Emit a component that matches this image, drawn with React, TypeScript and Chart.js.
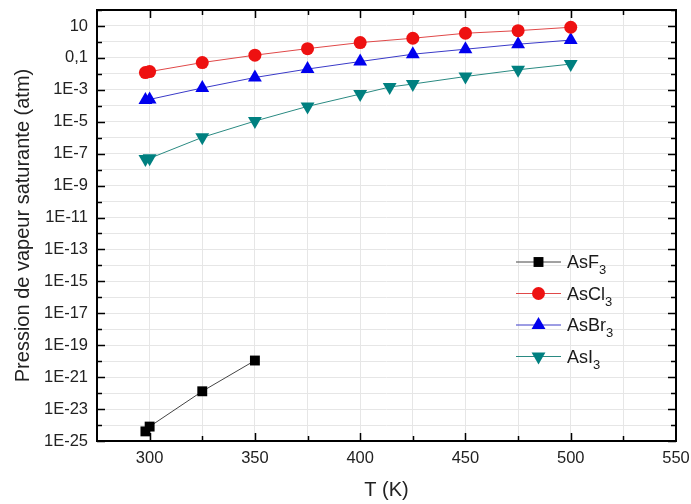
import React, { useEffect, useRef } from 'react';
import { Chart, registerables } from 'chart.js';

Chart.register(...registerables);

// ---- Data ----
const asF3T = [298, 300, 325, 350];
const asF3P = [4e-25, 8e-25, 1.3e-22, 1.1e-20];

const asCl3T = [298, 300, 325, 350, 375, 400, 425, 450, 475, 500];
const asCl3P = [0.012, 0.0138, 0.051, 0.148, 0.38, 0.91, 1.7, 3.5, 5.1, 8.3];

const asBr3T = [298, 300, 325, 350, 375, 400, 425, 450, 475, 500];
const asBr3P = [2.3e-4, 2.5e-4, 1.3e-3, 5.9e-3, 0.02, 0.059, 0.17, 0.35, 0.72, 1.3];

const asI3T = [298, 300, 325, 350, 375, 400, 414, 425, 450, 475, 500];
const asI3P = [4.7e-8, 5.1e-8, 1.05e-6, 1.1e-5, 9.1e-5, 5.4e-4, 1.5e-3, 2.3e-3, 6.8e-3, 0.018, 0.041];

const xTickValues = [275, 300, 325, 350, 375, 400, 425, 450, 475, 500, 525, 550];
const xLabeledStep = 50;
const yExponents = Array.from({ length: 28 }, (_, i) => -25 + i); // -25 .. 2

const seriesNames = ['AsF', 'AsCl', 'AsBr', 'AsI'];
const seriesSub = ['3', '3', '3', '3'];

const FONT = '"Liberation Sans", Arial, sans-serif';

type Style = { line: string; fill: string; shape: string; r: number; rot: number };
const styles: Style[] = [
  { line: '#444444', fill: '#000000', shape: 'rect', r: 7, rot: 0 },
  { line: '#e04848', fill: '#ee1111', shape: 'circle', r: 6.5, rot: 0 },
  { line: '#3a3ac8', fill: '#0000ee', shape: 'triangle', r: 8, rot: 0 },
  { line: '#2a8a82', fill: '#008080', shape: 'triangle', r: 8, rot: 180 },
];

function yLabel(v: number): string {
  const e = Math.round(Math.log10(v));
  if (e % 2 === 0) return '';
  if (e === 1) return '10';
  if (e === -1) return '0,1';
  return '1E' + e;
}

function drawMarker(ctx: CanvasRenderingContext2D, st: Style, x: number, y: number) {
  const r = st.r;
  ctx.beginPath();
  if (st.shape === 'circle') {
    ctx.arc(x, y, r, 0, Math.PI * 2);
  } else if (st.shape === 'rect') {
    const s = Math.SQRT1_2 * r;
    ctx.rect(x - s, y - s, 2 * s, 2 * s);
  } else {
    let rad = (st.rot * Math.PI) / 180;
    const t = (2 * Math.PI) / 3;
    ctx.moveTo(x + Math.sin(rad) * r, y - Math.cos(rad) * r);
    rad += t;
    ctx.lineTo(x + Math.sin(rad) * r, y - Math.cos(rad) * r);
    rad += t;
    ctx.lineTo(x + Math.sin(rad) * r, y - Math.cos(rad) * r);
    ctx.closePath();
  }
  ctx.fillStyle = st.fill;
  ctx.fill();
}

const framePlugin = {
  id: 'frameTicks',
  afterDraw(chart: any) {
    const { ctx, chartArea, scales } = chart;
    const { left, right, top, bottom } = chartArea;
    const x = scales.x;
    const y = scales.y;
    ctx.save();
    ctx.strokeStyle = '#000';
    ctx.lineWidth = 1.5;
    for (const v of xTickValues) {
      if (v <= x.min || v >= x.max) continue;
      const px = Math.round(x.getPixelForValue(v)) + 0.5;
      const len = v % xLabeledStep === 0 ? 8 : 5;
      ctx.beginPath();
      ctx.moveTo(px, bottom);
      ctx.lineTo(px, bottom - len);
      ctx.moveTo(px, top);
      ctx.lineTo(px, top + len);
      ctx.stroke();
    }
    for (const e of yExponents) {
      const py = Math.round(y.getPixelForValue(Math.pow(10, e))) + 0.5;
      const len = e % 2 !== 0 ? 8 : 5;
      ctx.beginPath();
      ctx.moveTo(left, py);
      ctx.lineTo(left + len, py);
      ctx.moveTo(right, py);
      ctx.lineTo(right - len, py);
      ctx.stroke();
    }
    ctx.lineWidth = 2;
    ctx.strokeRect(left, top, right - left, bottom - top);

    // Legend
    const lx = left + 419;
    const ly0 = top + 252;
    const dy = 31.5;
    styles.forEach((st, i) => {
      const yy = ly0 + i * dy;
      ctx.strokeStyle = st.line;
      ctx.lineWidth = 1;
      ctx.beginPath();
      ctx.moveTo(lx, yy);
      ctx.lineTo(lx + 45, yy);
      ctx.stroke();
      drawMarker(ctx, st, lx + 22.5, yy);
      ctx.fillStyle = '#1a1a1a';
      ctx.textBaseline = 'alphabetic';
      ctx.textAlign = 'left';
      ctx.font = '18px ' + FONT;
      ctx.fillText(seriesNames[i], lx + 51, yy + 6);
      const w = ctx.measureText(seriesNames[i]).width;
      ctx.font = '13px ' + FONT;
      ctx.fillText(seriesSub[i], lx + 51 + w, yy + 12);
    });
    ctx.restore();
  },
};

export default function App() {
  const ref = useRef<HTMLCanvasElement>(null);
  useEffect(() => {
    if (!ref.current) return;
    const sets = [
      [asF3T, asF3P],
      [asCl3T, asCl3P],
      [asBr3T, asBr3P],
      [asI3T, asI3P],
    ];
    const chart = new Chart(ref.current, {
      type: 'scatter',
      data: {
        datasets: sets.map(([t, p], i) => ({
          label: seriesNames[i] + seriesSub[i],
          data: t.map((tv, j) => ({ x: tv, y: p[j] })),
          showLine: true,
          borderColor: styles[i].line,
          borderWidth: 1,
          backgroundColor: styles[i].fill,
          pointBackgroundColor: styles[i].fill,
          pointBorderWidth: 0,
          pointBorderColor: styles[i].fill,
          pointStyle: styles[i].shape as any,
          pointRadius: styles[i].r,
          pointRotation: styles[i].rot,
          clip: false as any,
        })),
      },
      options: {
        animation: false,
        responsive: false,
        layout: { padding: { left: 0, top: 10, right: 15, bottom: 0 } },
        plugins: { legend: { display: false }, tooltip: { enabled: false } },
        scales: {
          x: {
            type: 'linear',
            min: 275,
            max: 550,
            afterBuildTicks: (s: any) => {
              s.ticks = xTickValues.map((v) => ({ value: v }));
            },
            afterFit: (s: any) => {
              s.height = 63;
              s.paddingLeft = 0;
              s.paddingRight = 0;
            },
            grid: { color: '#e6e6e6', lineWidth: 1, drawTicks: false },
            border: { display: false },
            ticks: {
              padding: 8,
              color: '#222',
              font: { family: FONT, size: 16.5 },
              maxRotation: 0,
              autoSkip: false,
              callback: (v: any) => (Number(v) % xLabeledStep === 0 && Number(v) > 275 ? String(v) : ''),
            },
            title: {
              display: true,
              text: 'T (K)',
              color: '#222',
              font: { family: FONT, size: 20 },
              padding: { top: 0, bottom: 2 },
            },
          },
          y: {
            type: 'logarithmic',
            min: 1e-25,
            max: 1e2,
            afterBuildTicks: (s: any) => {
              s.ticks = yExponents.map((e) => ({ value: Math.pow(10, e) }));
            },
            afterFit: (s: any) => {
              s.width = 97;
              s.paddingTop = 0;
              s.paddingBottom = 0;
            },
            grid: { color: '#e6e6e6', lineWidth: 1, drawTicks: false },
            border: { display: false },
            ticks: {
              padding: 9,
              color: '#222',
              font: { family: FONT, size: 16.5 },
              autoSkip: false,
              callback: (v: any) => yLabel(Number(v)),
            },
            title: {
              display: true,
              text: 'Pression de vapeur saturante (atm)',
              color: '#222',
              font: { family: FONT, size: 20 },
              padding: { top: 11, bottom: 0 },
            },
          },
        },
      },
      plugins: [framePlugin],
    });
    return () => chart.destroy();
  }, []);
  return (
    <div style={{ position: 'absolute', left: 0, top: 0, width: 691, height: 504, background: '#fff' }}>
      <canvas ref={ref} width={691} height={504} style={{ display: 'block' }} />
    </div>
  );
}
